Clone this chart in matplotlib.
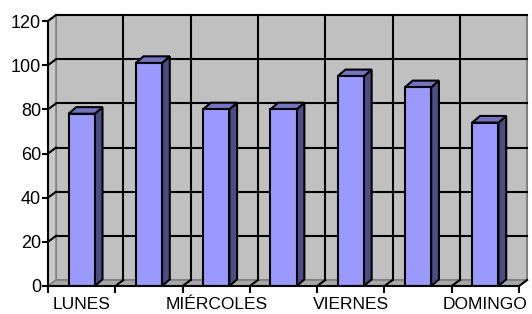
import numpy as np
import matplotlib
matplotlib.use('Agg')
import matplotlib.pyplot as plt
from matplotlib.patches import Polygon

plt.rcParams['font.family'] = ['Liberation Sans', 'DejaVu Sans']

dias = ['LUNES', 'MARTES', 'MIÉRCOLES', 'JUEVES', 'VIERNES', 'SÁBADO', 'DOMINGO']
valores = [78, 101, 80, 80, 95, 90, 74]
yticks = [0, 20, 40, 60, 80, 100, 120]

n = len(dias)
ymax = 120
# profundidad de la pared (en unidades de datos)
dx, dy = 0.12, 2.7
# profundidad de las barras
bdx, bdy = 0.115, 3.0
w = 0.39

fig = plt.figure(figsize=(5.32, 3.14), dpi=100)
ax = fig.add_axes([48/532, (314-286)/314, 471/532, 265/314])
ax.set_xlim(0, n)
ax.set_ylim(0, ymax)
ax.set_facecolor('none')

# pared del fondo
ax.add_patch(Polygon([(dx, dy), (n+dx, dy), (n+dx, ymax+dy), (dx, ymax+dy)],
                     closed=True, fc='#C0C0C0', ec='#808080', lw=1.5, clip_on=False, zorder=1))
# pared lateral
ax.add_patch(Polygon([(0, 0), (dx, dy), (dx, ymax+dy), (0, ymax)],
                     closed=True, fc='#C8C8C8', ec='#808080', lw=1.2, clip_on=False, zorder=1))
# suelo
ax.add_patch(Polygon([(0, 0), (n, 0), (n+dx, dy), (dx, dy)],
                     closed=True, fc='#A8A8A8', ec='#808080', lw=1.2, clip_on=False, zorder=1))

# rejilla
for v in yticks[1:]:
    ax.plot([dx, n+dx], [v+dy, v+dy], color='black', lw=1.5, clip_on=False, zorder=2)
    ax.plot([0, dx], [v, v+dy], color='black', lw=1.5, clip_on=False, zorder=2)
for k in range(1, n):
    ax.plot([k+dx, k+dx], [dy, ymax+dy], color='black', lw=1.5, clip_on=False, zorder=2)
for k in range(1, n+1):
    ax.plot([k, k+dx], [0, dy], color='black', lw=1.5, clip_on=False, zorder=2)

# barras
x = np.arange(n) + 0.5
for xi, v in zip(x, valores):
    side = [(xi+w/2, 0), (xi+w/2+bdx, bdy), (xi+w/2+bdx, v+bdy), (xi+w/2, v)]
    top = [(xi-w/2, v), (xi+w/2, v), (xi+w/2+bdx, v+bdy), (xi-w/2+bdx, v+bdy)]
    ax.add_patch(Polygon(side, closed=True, fc='#4D4D85', ec='black', lw=1.5, zorder=3))
    ax.add_patch(Polygon(top, closed=True, fc='#7373C4', ec='black', lw=1.5, zorder=3))
ax.bar(x, valores, width=w, color='#9999FF', edgecolor='black', linewidth=1.5, zorder=4)

# ejes
for s in ['top', 'right']:
    ax.spines[s].set_visible(False)
for s in ['left', 'bottom']:
    ax.spines[s].set_linewidth(1.5)
    ax.spines[s].set_zorder(5)

ax.set_yticks(yticks)
ax.set_yticklabels([str(v) for v in yticks])
ax.set_xticks(np.arange(n+1))
ax.set_xticklabels([])
ax.set_xticks(x, minor=True)
ax.set_xticklabels([d if i % 2 == 0 else '' for i, d in enumerate(dias)], minor=True)
ax.tick_params(axis='y', length=4, width=1.5, pad=1, labelsize=13)
ax.tick_params(axis='x', which='major', length=5, width=1.5)
ax.tick_params(axis='x', which='minor', length=0, pad=8, labelsize=12.5)

fig.savefig('out.png', dpi=100)
